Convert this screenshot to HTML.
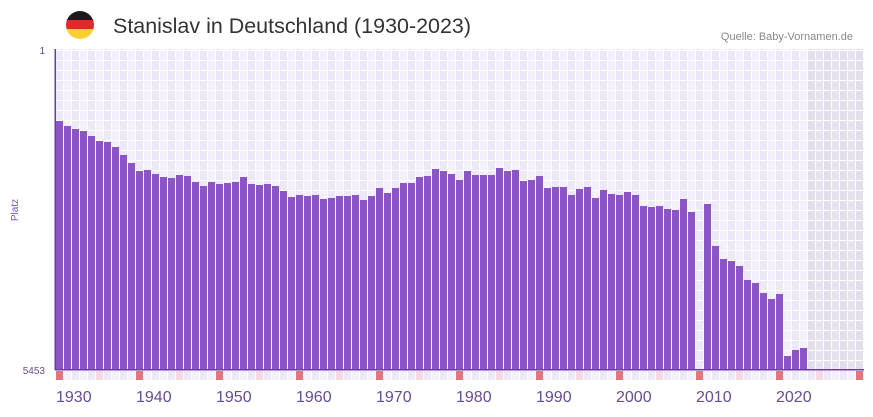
<!DOCTYPE html><html><head><meta charset="utf-8"><style>
body{margin:0;background:#fff;width:873px;height:412px;overflow:hidden;font-family:"Liberation Sans",sans-serif}
</style></head><body>
<svg width="873" height="412" xmlns="http://www.w3.org/2000/svg">
<defs><clipPath id="c"><circle cx="80" cy="25" r="14"/></clipPath></defs>
<g clip-path="url(#c)"><rect x="66" y="11" width="28" height="10" fill="#1a1a1a"/><rect x="66" y="20" width="28" height="10" fill="#dd2a2a"/><rect x="66" y="29" width="28" height="11" fill="#f8cf2e"/></g>
<text x="113" y="33" font-size="21" fill="#333" textLength="358" lengthAdjust="spacingAndGlyphs">Stanislav in Deutschland (1930-2023)</text>
<text x="853" y="40" font-size="11" fill="#888" text-anchor="end">Quelle: Baby-Vornamen.de</text>
<g id="g"></g>
<text x="45" y="54" font-size="10" fill="#6a4a9a" text-anchor="end">1</text>
<text x="45" y="374" font-size="10" fill="#6a4a9a" text-anchor="end">5453</text>
<text transform="translate(18,210) rotate(-90)" font-size="10" fill="#7b4fb8" text-anchor="middle">Platz</text>
</svg>
<script>
var tops=[121,126,129,131,136,141,142,147,155,163,171,170,174,177,178,175,176,182,186,182,184,183,182,177,184,185,184,186,191,197,195,196,195,199,198,196,196,195,200,196,188,193,188,183,183,177,176,169,171,174,180,171,175,175,175,168,171,170,181,180,176,188,187,187,195,189,187,198,190,194,195,192,195,206,207,206,209,210,199,212,370,204,246,259,261,266,280,283,293,299,294,356,350,348];
var s='';
for(var i=0;i<101;i++){var x=56+8*i;var yr=1930+i;
var f=yr>=2024?(i%2?'#e6e2ee':'#e2deec'):(i%2?'#f3effb':'#ede8f7');
s+='<rect x="'+x+'" y="49" width="8" height="321" fill="'+f+'"/>';
var m=yr%10==0?'#e8737a':(yr%10==5?'#f6d9e2':(i%2?'#f3effb':'#ede8f7'));
s+='<rect x="'+x+'" y="371" width="7" height="9" fill="'+m+'"/>';}
for(var i=0;i<=101;i++){s+='<rect x="'+(55+8*i)+'" y="49" width="1" height="331" fill="#fff"/>';}
for(var y=50;y<370;y+=10){s+='<rect x="56" y="'+y+'" width="808" height="1" fill="#fff"/>';}
for(var i=0;i<tops.length;i++){if(tops[i]<370)s+='<rect x="'+(56+8*i)+'" y="'+tops[i]+'" width="7" height="'+(370-tops[i])+'" fill="#8c55c7"/>';}
s+='<rect x="55" y="369" width="809" height="1.5" fill="#6a3aa8"/><rect x="54.5" y="49" width="1.5" height="321" fill="#6a3aa8"/>';
for(var d=0;d<10;d++){s+='<text x="'+(56+80*d)+'" y="402" font-size="16" fill="#6a4a9a">'+(1930+10*d)+'</text>';}
document.getElementById('g').innerHTML=s;
</script>
</body></html>
